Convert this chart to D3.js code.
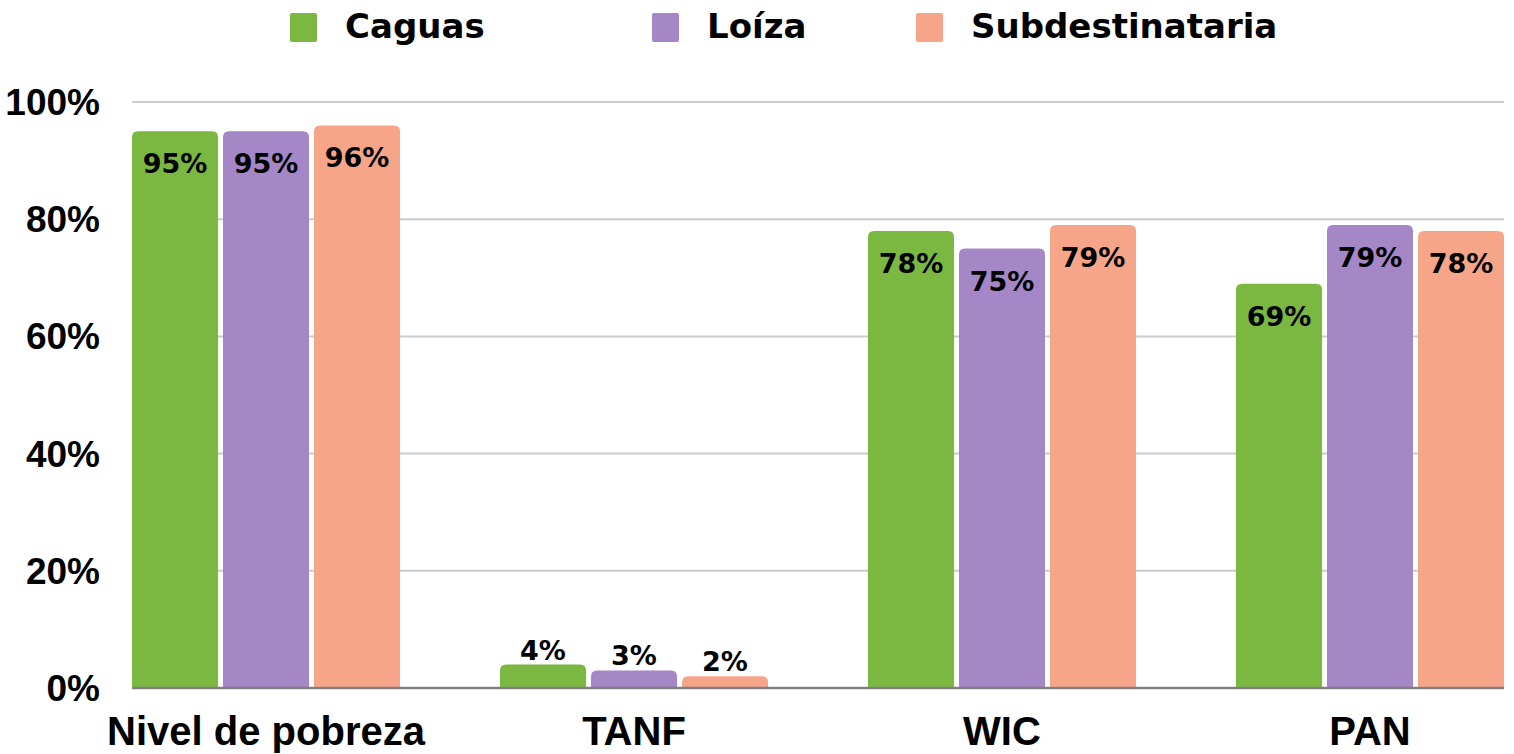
<!DOCTYPE html>
<html>
<head>
<meta charset="utf-8">
<script src="https://cdn.jsdelivr.net/npm/d3@7"></script>
<style>
body { margin: 0; background: #fff; }
text { font-weight: bold; fill: #000; }
.legend text { font-family: "DejaVu Sans", sans-serif; }
.ylab { font-family: "Liberation Sans", Arial, sans-serif; }
.cat { font-family: "Liberation Sans", Arial, sans-serif; }
.val { font-family: "DejaVu Sans", sans-serif; }
</style>
</head>
<body>
<script>
var categories = ['Nivel de pobreza', 'TANF', 'WIC', 'PAN'];
var seriesNames = ['Caguas', 'Loíza', 'Subdestinataria'];
var caguas = [95, 4, 78, 69];
var loiza = [95, 3, 75, 79];
var subdest = [96, 2, 79, 78];
var colors = ['#7ab842', '#a587c8', '#f7a589'];
var yTicks = [0, 20, 40, 60, 80, 100];

var allSeries = [caguas, loiza, subdest];

var svg = d3.select('body').append('svg').attr('width', 1514).attr('height', 754);

var plotLeft = 132, plotRight = 1504, plotTop = 102, plotBottom = 688;

var x0 = d3.scaleBand().domain(categories).range([plotLeft, plotRight]).paddingInner(0.2717).paddingOuter(0);
var x1 = d3.scaleBand().domain(seriesNames).range([0, x0.bandwidth()]).paddingInner(0.055);
var y = d3.scaleLinear().domain([0, 100]).range([plotBottom, plotTop]);

// gridlines
svg.selectAll('.grid').data(yTicks.filter(d => d > 0)).enter().append('line')
    .attr('x1', plotLeft).attr('x2', plotRight)
    .attr('y1', d => y(d)).attr('y2', d => y(d))
    .attr('stroke', '#cccccc').attr('stroke-width', 2);

// y labels
svg.selectAll('.ylab').data(yTicks).enter().append('text').attr('class', 'ylab')
    .attr('x', 100).attr('y', d => y(d) + 13)
    .attr('text-anchor', 'end').attr('font-size', 37)
    .text(d => d + '%');

function topRounded(x, yTop, w, h, r) {
    r = Math.min(r, h, w / 2);
    return 'M' + x + ',' + (yTop + h) + 'V' + (yTop + r) +
        'Q' + x + ',' + yTop + ' ' + (x + r) + ',' + yTop +
        'H' + (x + w - r) + 'Q' + (x + w) + ',' + yTop + ' ' + (x + w) + ',' + (yTop + r) +
        'V' + (yTop + h) + 'Z';
}

var bars = [];
categories.forEach(function (c, i) {
    seriesNames.forEach(function (s, j) {
        bars.push({cat: c, ser: s, j: j, v: allSeries[j][i]});
    });
});

svg.selectAll('.bar').data(bars).enter().append('path')
    .attr('d', d => topRounded(x0(d.cat) + x1(d.ser), y(d.v), x1.bandwidth(), plotBottom - y(d.v), 6))
    .attr('fill', d => colors[d.j]);

// axis line
svg.append('line').attr('x1', plotLeft).attr('x2', plotRight).attr('y1', plotBottom).attr('y2', plotBottom)
    .attr('stroke', '#808080').attr('stroke-width', 2.5);

// value labels
svg.selectAll('.val').data(bars).enter().append('text').attr('class', 'val')
    .attr('x', d => x0(d.cat) + x1(d.ser) + x1.bandwidth() / 2)
    .attr('y', d => d.v < 10 ? y(d.v) - 5 : y(d.v) + 42)
    .attr('text-anchor', 'middle').attr('font-size', 27)
    .text(d => d.v + '%');

// category labels
svg.selectAll('.cat').data(categories).enter().append('text').attr('class', 'cat')
    .attr('x', d => x0(d) + x0.bandwidth() / 2).attr('y', 745)
    .attr('text-anchor', 'middle').attr('font-size', 40)
    .text(d => d);

// legend
var legendX = [290, 652, 916];
var lg = svg.selectAll('.lg').data(seriesNames).enter().append('g').attr('class', 'legend')
    .attr('transform', (d, i) => 'translate(' + legendX[i] + ',0)');
lg.append('rect').attr('x', 0).attr('y', 13).attr('width', 27).attr('height', 29).attr('rx', 2)
    .attr('fill', (d, i) => colors[i]);
lg.append('text').attr('x', 55).attr('y', 38).attr('font-size', 34)
    .text(d => d);
</script>
</body>
</html>
